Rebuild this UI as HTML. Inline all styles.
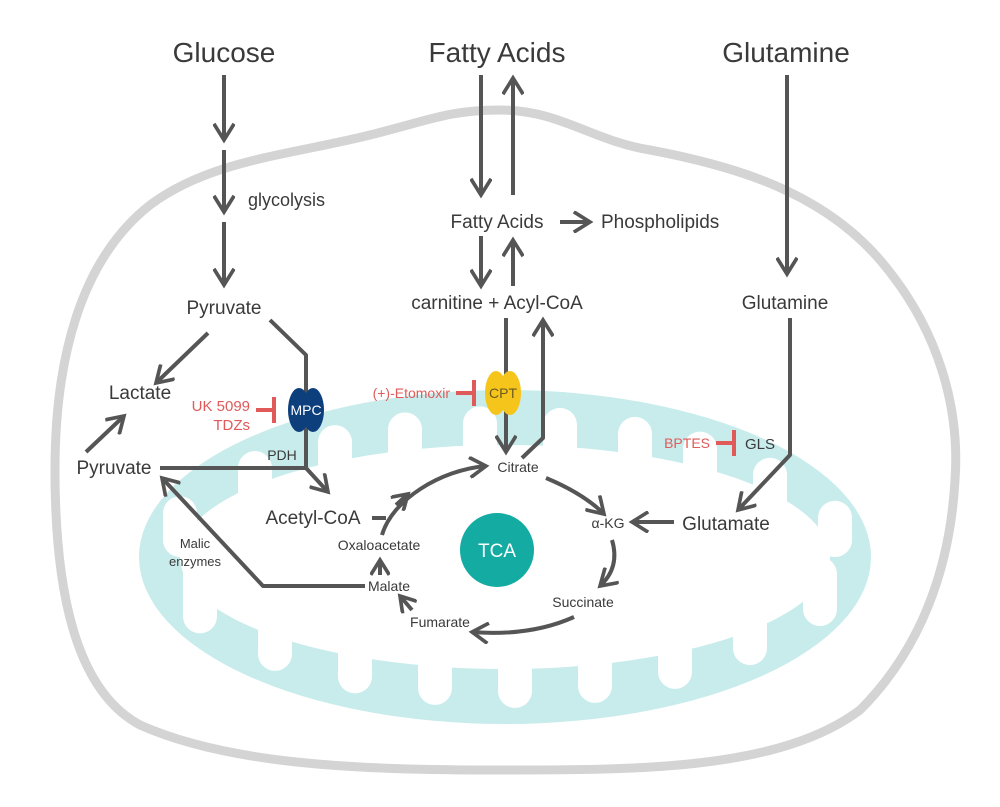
<!DOCTYPE html>
<html><head><meta charset="utf-8"><style>
html,body{margin:0;padding:0;background:#fff}
svg{display:block}
text{font-family:"Liberation Sans",sans-serif;fill:#3a3a3a}
.r{fill:#e05a5a}
</style></head><body>
<svg id="svg" width="1000" height="807" viewBox="0 0 1000 807">
<defs>
<marker id="ah" viewBox="0 0 12 12" refX="10" refY="6" markerWidth="5.5" markerHeight="5.5" orient="auto" markerUnits="strokeWidth">
<path d="M2,1 L10,6 L2,11" fill="none" stroke="#555" stroke-width="2" stroke-linecap="square"/>
</marker>
<marker id="as" viewBox="0 0 12 12" refX="10" refY="6" markerWidth="5" markerHeight="5" orient="auto" markerUnits="strokeWidth">
<path d="M2,1 L10,6 L2,11" fill="none" stroke="#555" stroke-width="2.2" stroke-linecap="square"/>
</marker>
</defs>
<path d="M500,110 C560,110 590,140 650,150 C730,165 820,190 880,260 C940,330 960,410 955,480 C950,570 920,650 860,710 C780,770 640,770 500,770 C360,770 230,765 140,725 C75,690 55,590 55,470 C55,360 80,260 150,205 C210,160 290,155 370,135 C430,120 450,110 500,110 Z" fill="#fff" stroke="#d4d4d4" stroke-width="9"/>
<g id="mito">
<ellipse cx="505" cy="557" rx="366" ry="167" fill="#c8ecec"/>
<ellipse cx="505" cy="557" rx="325" ry="112" fill="#fff"/>
</g>
<g stroke="#555" stroke-width="4" fill="none" stroke-linecap="butt" stroke-linejoin="round">
<line x1="224" y1="75" x2="224" y2="140" marker-end="url(#ah)"/>
<line x1="224" y1="150" x2="224" y2="212" marker-end="url(#ah)"/>
<line x1="224" y1="222" x2="224" y2="285" marker-end="url(#ah)"/>
<line x1="208" y1="333" x2="156" y2="383" marker-end="url(#ah)"/>
<line x1="86" y1="452" x2="124" y2="416" marker-end="url(#ah)"/>
<polyline points="270,320 306,355 306,468"/>
<polyline points="160,468 306,468 328,492" marker-end="url(#ah)"/>
<line x1="372" y1="518" x2="386" y2="518"/>
<path d="M382,535 C392,500 440,470 486,466" marker-end="url(#ah)"/>
<path d="M396,505 L408,494" marker-end="url(#as)"/>
<path d="M546,478 C570,488 590,500 604,514" marker-end="url(#ah)"/>
<path d="M612,540 C618,560 612,575 600,586" marker-end="url(#ah)"/>
<path d="M574,617 C545,630 510,635 472,632" marker-end="url(#ah)"/>
<line x1="412" y1="610" x2="400" y2="596" marker-end="url(#as)"/>
<line x1="380" y1="575" x2="380" y2="560" marker-end="url(#as)"/>
<polyline points="365,586 263,586 162,478" marker-end="url(#ah)"/>
<line x1="481" y1="75" x2="481" y2="195" marker-end="url(#ah)"/>
<line x1="513" y1="195" x2="513" y2="78" marker-end="url(#ah)"/>
<line x1="560" y1="222" x2="590" y2="222" marker-end="url(#ah)"/>
<line x1="481" y1="236" x2="481" y2="286" marker-end="url(#ah)"/>
<line x1="513" y1="286" x2="513" y2="240" marker-end="url(#ah)"/>
<line x1="506" y1="318" x2="506" y2="452" marker-end="url(#ah)"/>
<polyline points="522,458 543,438 543,320" marker-end="url(#ah)"/>
<line x1="787" y1="75" x2="787" y2="274" marker-end="url(#ah)"/>
<polyline points="790,318 790,455 738,510" marker-end="url(#ah)"/>
<line x1="674" y1="522" x2="632" y2="522" marker-end="url(#ah)"/>
</g>
<g stroke="#e05a5a" stroke-width="4">
<line x1="256" y1="410" x2="274" y2="410"/><line x1="274" y1="397" x2="274" y2="423"/>
<line x1="456" y1="393" x2="474" y2="393"/><line x1="474" y1="380" x2="474" y2="406"/>
<line x1="716" y1="443" x2="734" y2="443"/><line x1="734" y1="430" x2="734" y2="456"/>
</g>
<g>
<ellipse cx="299" cy="410" rx="11" ry="22" fill="#0c3f7c"/><ellipse cx="313" cy="410" rx="11" ry="22" fill="#0c3f7c"/>
<text x="306" y="415" font-size="14" text-anchor="middle" style="fill:#fff">MPC</text></g>
<g>
<ellipse cx="496" cy="393" rx="11" ry="22" fill="#f6c51c"/><ellipse cx="510" cy="393" rx="11" ry="22" fill="#f6c51c"/>
<text x="503" y="398" font-size="14" text-anchor="middle" style="fill:#6a5a20">CPT</text></g>
<circle cx="497" cy="550" r="37" fill="#13aba2"/>
<text x="497" y="557" font-size="19" text-anchor="middle" style="fill:#fff">TCA</text>
<g text-anchor="middle">
<text x="224" y="62" font-size="28">Glucose</text>
<text x="497" y="62" font-size="28">Fatty Acids</text>
<text x="786" y="62" font-size="28">Glutamine</text>
<text x="224" y="314" font-size="19">Pyruvate</text>
<text x="140" y="399" font-size="19">Lactate</text>
<text x="114" y="474" font-size="19">Pyruvate</text>
<text x="282" y="460" font-size="14">PDH</text>
<text x="313" y="524" font-size="19">Acetyl-CoA</text>
<text x="195" y="548" font-size="13">Malic</text>
<text x="195" y="566" font-size="13">enzymes</text>
<text x="497" y="228" font-size="19">Fatty Acids</text>
<text x="497" y="309" font-size="19">carnitine + Acyl-CoA</text>
<text x="785" y="309" font-size="19">Glutamine</text>
<text x="518" y="472" font-size="14">Citrate</text>
<text x="608" y="528" font-size="14">α-KG</text>
<text x="583" y="607" font-size="14">Succinate</text>
<text x="440" y="627" font-size="14">Fumarate</text>
<text x="389" y="591" font-size="14">Malate</text>
<text x="379" y="550" font-size="14">Oxaloacetate</text>
<text x="726" y="530" font-size="19">Glutamate</text>
<text x="760" y="449" font-size="15">GLS</text>
</g>
<text x="248" y="206" font-size="18">glycolysis</text>
<text x="601" y="228" font-size="19">Phospholipids</text>
<g text-anchor="end">
<text x="250" y="411" font-size="15" class="r">UK 5099</text>
<text x="250" y="430" font-size="15" class="r">TDZs</text>
<text x="450" y="398" font-size="14" class="r">(+)-Etomoxir</text>
<text x="710" y="448" font-size="14" class="r">BPTES</text>
</g>
</svg>
<script>
const topX=[180,255,335,405,480,560,635,700,770,835];
const botX=[200,275,355,435,515,595,675,750,820];
const mito=document.getElementById('mito');
const cx=505,cy=557,rx=366,ry=167,ns='http://www.w3.org/2000/svg';
function finger(x,top){
  const dy=ry*Math.sqrt(Math.max(0,1-Math.pow((x-cx)/rx,2)));
  const edge=top?cy-dy+16:cy+dy-16;
  const r=document.createElementNS(ns,'rect');
  r.setAttribute('x',x-17);r.setAttribute('width',34);r.setAttribute('rx',17);
  if(top){r.setAttribute('y',edge);r.setAttribute('height',cy-edge);}
  else{r.setAttribute('y',cy);r.setAttribute('height',edge-cy);}
  r.setAttribute('fill','#fff');
  
  
  mito.appendChild(r);
}
topX.forEach(x=>finger(x,true));
botX.forEach(x=>finger(x,false));
</script>
</body></html>
